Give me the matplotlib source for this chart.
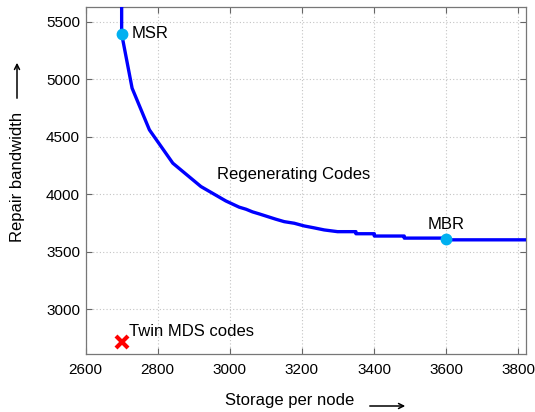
import matplotlib

matplotlib.use("Agg")
import matplotlib.pyplot as plt

# regenerating-codes trade-off curve
storage = [2700, 2700, 2729, 2777, 2842, 2920, 2989, 3026, 3045, 3063, 3082,
           3105, 3128, 3151, 3179, 3206, 3234, 3262, 3299, 3350, 3350, 3401,
           3401, 3484, 3484, 3600, 3600, 3830]
bandwidth = [5700, 5393, 4921, 4559, 4269, 4066, 3941, 3887, 3869, 3846, 3828,
             3805, 3782, 3761, 3747, 3724, 3707, 3689, 3674, 3674, 3656, 3656,
             3636, 3636, 3618, 3618, 3603, 3603]

msr = (2700, 5393)
mbr = (3600, 3608)
twin = (2700, 2716)

xticks = [2600, 2800, 3000, 3200, 3400, 3600, 3800]
yticks = [3000, 3500, 4000, 4500, 5000, 5500]

plt.rcParams["font.family"] = ["Liberation Sans", "DejaVu Sans"]
plt.rcParams["font.size"] = 12

fig = plt.figure(figsize=(5.35, 4.12), dpi=100)
ax = fig.add_axes([0.160, 0.140, 0.824, 0.844])

ax.plot(storage, bandwidth, color="#0000ff", lw=2.4, zorder=3)
ax.plot(*msr, "o", color="#00b0f0", ms=7.5, zorder=4)
ax.plot(*mbr, "o", color="#00b0f0", ms=7.5, zorder=4)
ax.plot(*twin, "x", color="#ff0000", ms=8, mew=3, zorder=4)

ax.annotate("MSR", msr, xytext=(7, 0), textcoords="offset points",
            ha="left", va="center")
ax.annotate("MBR", mbr, xytext=(0, 5), textcoords="offset points",
            ha="center", va="bottom")
ax.text(2964, 4167, "Regenerating Codes", ha="left", va="center")
ax.text(2720, 2805, "Twin MDS codes", ha="left", va="center")

ax.set_xlim(2600, 3823)
ax.set_ylim(2608, 5630)
ax.set_xticks(xticks)
ax.set_yticks(yticks)
ax.grid(True, color="#c4c4c4", linestyle=(0, (1, 2)), lw=0.8)
ax.set_axisbelow(True)
ax.tick_params(direction="in", length=4, top=True, right=True,
               color="#666666", labelcolor="black", labelsize=11)
ax.tick_params(axis="x", pad=6)
ax.tick_params(axis="y", pad=4)
for s in ax.spines.values():
    s.set_color("#777777")
    s.set_linewidth(0.9)

# axis titles with arrows, matlab style
fig.text(290 / 535, 1 - 401 / 412, "Storage per node", ha="center", va="center")
fig.text(18 / 535, 1 - 177 / 412, "Repair bandwidth", ha="center", va="center",
         rotation=90)
fig.patches.append(matplotlib.patches.FancyArrowPatch(
    (367 / 535, 1 - 406 / 412), (408 / 535, 1 - 406 / 412),
    transform=fig.transFigure, arrowstyle="->", mutation_scale=9, lw=1.1,
    color="black"))
fig.patches.append(matplotlib.patches.FancyArrowPatch(
    (17 / 535, 1 - 101 / 412), (17 / 535, 1 - 60 / 412),
    transform=fig.transFigure, arrowstyle="->", mutation_scale=9, lw=1.1,
    color="black"))

fig.savefig("out.png", dpi=100)
